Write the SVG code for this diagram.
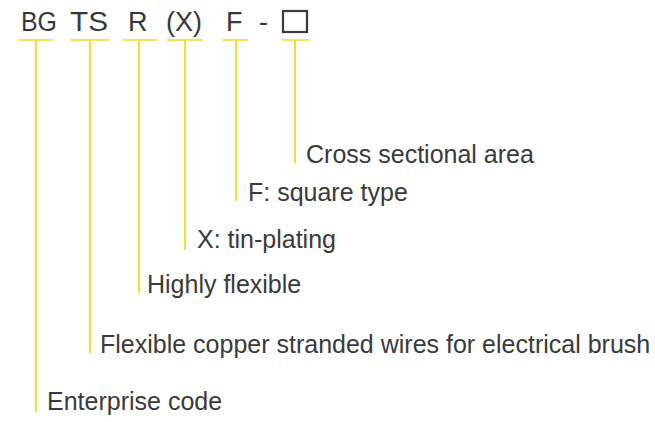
<svg xmlns="http://www.w3.org/2000/svg" width="655" height="422" viewBox="0 0 655 422">
<style>
.code{font-family:"Liberation Sans",Arial,sans-serif;font-size:27px;fill:#383838}
.lbl{font-family:"Liberation Sans",Arial,sans-serif;font-size:25px;fill:#3a3a3a}
.ln{stroke:#f2dc3c;stroke-width:2;fill:none}
.ul{stroke:#f5e25a;stroke-width:2;fill:none}
</style>
<rect width="655" height="422" fill="#ffffff"/>
<g id="code">
<text class="code" x="21" y="31" textLength="36" lengthAdjust="spacingAndGlyphs">BG</text>
<text class="code" x="70" y="31" textLength="38" lengthAdjust="spacingAndGlyphs">TS</text>
<text class="code" x="128" y="31">R</text>
<text class="code" x="166" y="31" textLength="36" lengthAdjust="spacingAndGlyphs">(X)</text>
<text class="code" x="226" y="31">F</text>
<text class="code" x="259" y="31">-</text>
<rect x="283" y="11" width="24" height="21" fill="none" stroke="#3a3a3a" stroke-width="2.2"/>
</g>
<g id="connectors">
<line class="ul" x1="18" y1="40" x2="54" y2="40"/>
<line class="ul" x1="70" y1="40" x2="110" y2="40"/>
<line class="ul" x1="122" y1="40" x2="157" y2="40"/>
<line class="ul" x1="167" y1="40" x2="203" y2="40"/>
<line class="ul" x1="222" y1="40" x2="248" y2="40"/>
<line class="ul" x1="282" y1="40" x2="310" y2="40"/>
<line class="ln" x1="36" y1="40" x2="36" y2="412"/>
<line class="ln" x1="90" y1="40" x2="90" y2="353"/>
<line class="ln" x1="139" y1="40" x2="139" y2="293"/>
<line class="ln" x1="185" y1="40" x2="185" y2="250"/>
<line class="ln" x1="236" y1="40" x2="236" y2="201"/>
<line class="ln" x1="295" y1="40" x2="295" y2="163"/>
</g>
<g id="n-area"><text class="lbl" x="306" y="163">Cross sectional area</text></g>
<g id="n-f"><text class="lbl" x="248" y="201">F: square type</text></g>
<g id="n-x"><text class="lbl" x="197" y="248">X: tin-plating</text></g>
<g id="n-r"><text class="lbl" x="147" y="293">Highly flexible</text></g>
<g id="n-ts"><text class="lbl" x="100" y="353">Flexible copper stranded wires for electrical brush</text></g>
<g id="n-bg"><text class="lbl" x="47" y="410">Enterprise code</text></g>
</svg>
